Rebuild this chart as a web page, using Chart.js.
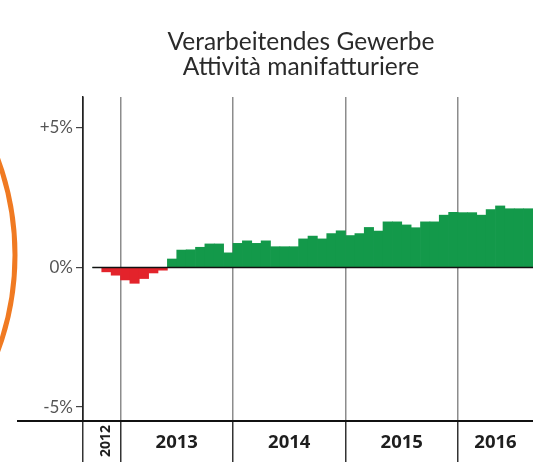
<!DOCTYPE html>
<html>
<head>
<meta charset="utf-8">
<script src="https://cdn.jsdelivr.net/npm/chart.js@4"></script>
<style>
  body { margin: 0; background: #fff; overflow: hidden; }
  canvas { display: block; }
</style>
</head>
<body>
<canvas id="mycanvas" width="533" height="462"></canvas>
<script>
// monthly change, Sep 2012 - Aug 2016 (picture is cut on the right)
var months = [
    "2012-09", "2012-10", "2012-11", "2012-12",
    "2013-01", "2013-02", "2013-03", "2013-04", "2013-05", "2013-06", "2013-07", "2013-08", "2013-09", "2013-10", "2013-11", "2013-12",
    "2014-01", "2014-02", "2014-03", "2014-04", "2014-05", "2014-06", "2014-07", "2014-08", "2014-09", "2014-10", "2014-11", "2014-12",
    "2015-01", "2015-02", "2015-03", "2015-04", "2015-05", "2015-06", "2015-07", "2015-08", "2015-09", "2015-10", "2015-11", "2015-12",
    "2016-01", "2016-02", "2016-03", "2016-04", "2016-05", "2016-06", "2016-07", "2016-08"
];
var change = [
    null, 0, -0.16, -0.28,
    -0.45, -0.57, -0.4, -0.2, -0.1, 0.3, 0.62, 0.63, 0.72, 0.84, 0.84, 0.52,
    0.86, 0.95, 0.86, 0.95, 0.74, 0.74, 0.74, 1.02, 1.12, 1.02, 1.21, 1.31,
    1.14, 1.21, 1.43, 1.3, 1.63, 1.63, 1.52, 1.42, 1.63, 1.63, 1.87, 1.97,
    1.96, 1.96, 1.87, 2.07, 2.2, 2.1, 2.1, 2.1
];
var years = ["2012", "2013", "2014", "2015", "2016"];
var yTicks = [-5, 0, 5];
var titleLines = ["Verarbeitendes Gewerbe", "Attività manifatturiere"];

var green = "#13994a";
var red = "#e3232b";

var barColors = [];
for (var i in change) {
    barColors.push(change[i] < 0 ? red : green);
}

function isYearStart(index) {
    if (index === 0) return true;
    return months[index] !== undefined && months[index].slice(5) === "01";
}

// title, orange ring piece on the left, bottom rule, zero line and year labels
var extras = {
    id: "extras",
    beforeDraw: function(chart) {
        var c = chart.ctx;
        c.save();
        c.strokeStyle = "#f07a22";
        c.lineWidth = 5;
        c.beginPath();
        c.arc(-262, 255, 277, 0, Math.PI * 2);
        c.stroke();

        c.fillStyle = "#2a2a2a";
        c.font = "24.5px Lato";
        c.textAlign = "center";
        c.textBaseline = "alphabetic";
        c.fillText(titleLines[0], 301, 50);
        c.fillText(titleLines[1], 301, 75);
        c.restore();
    },
    afterDatasetsDraw: function(chart) {
        var c = chart.ctx;
        var x = chart.scales.x;
        var y = chart.scales.y;
        var half = (x.getPixelForValue(1) - x.getPixelForValue(0)) / 2;
        var first = 0;
        while (change[first] === null) first++;

        c.save();
        c.strokeStyle = "#111";
        c.lineWidth = 1.5;
        c.beginPath();
        c.moveTo(x.getPixelForValue(first) - half, y.getPixelForValue(0));
        c.lineTo(chart.chartArea.right, y.getPixelForValue(0));
        c.stroke();

        c.lineWidth = 2;
        c.beginPath();
        c.moveTo(17, chart.chartArea.bottom);
        c.lineTo(chart.chartArea.right, chart.chartArea.bottom);
        c.stroke();

        c.fillStyle = "#1e1e1e";
        c.textAlign = "center";
        c.textBaseline = "middle";
        for (var k = 0; k < years.length; k++) {
            var idx = [];
            for (var m = 0; m < months.length; m++) {
                if (months[m].slice(0, 4) === years[k]) idx.push(m);
            }
            var left = x.getPixelForValue(idx[0]) - half;
            var right = x.getPixelForValue(idx[idx.length - 1]) + half;
            var cx = (left + right) / 2;
            var cy = chart.chartArea.bottom + 21;
            if (idx.length < 6) {
                c.save();
                c.font = "bold 14px 'Open Sans'";
                c.translate(cx + 4, cy - 1);
                c.rotate(-Math.PI / 2);
                c.fillText(years[k], 0, 0);
                c.restore();
            } else {
                c.font = "bold 18.5px 'Open Sans'";
                c.fillText(years[k], cx, cy + 1);
            }
        }
        c.restore();
    }
};

var chartdata = {
    labels: months,
    datasets: [
        {
            label: "change",
            data: change,
            backgroundColor: barColors,
            borderWidth: 0,
            barPercentage: 1,
            categoryPercentage: 1
        }
    ]
};

var ctx = document.getElementById("mycanvas");

var BarGraph = new Chart(ctx, {
    type: "bar",
    data: chartdata,
    plugins: [extras],
    options: {
        responsive: false,
        animation: false,
        layout: { padding: { top: 97, left: 0, right: 0, bottom: 0 } },
        plugins: {
            legend: { display: false },
            tooltip: { enabled: false },
            title: { display: false }
        },
        scales: {
            x: {
                ticks: { display: false },
                grid: {
                    offset: true,
                    lineWidth: 1.5,
                    tickLength: 41,
                    color: function(c) {
                        if (c.index === 0) return "#222";
                        return isYearStart(c.index) ? "#8c8c8c" : "rgba(0,0,0,0)";
                    },
                    tickColor: function(c) {
                        return isYearStart(c.index) ? "#333" : "rgba(0,0,0,0)";
                    }
                },
                border: { display: false }
            },
            y: {
                min: -5.5,
                max: 6.1,
                afterFit: function(scale) { scale.width = 83; },
                afterBuildTicks: function(scale) {
                    scale.ticks = yTicks.map(function(v) { return { value: v }; });
                },
                ticks: {
                    padding: 3,
                    color: "#555",
                    font: { family: "Lato", size: 17 },
                    callback: function(v) { return (v > 0 ? "+" : "") + v + "%"; }
                },
                grid: {
                    drawOnChartArea: false,
                    tickLength: 7,
                    color: "#444",
                    lineWidth: 1.2
                },
                border: { color: "#222", width: 1.5 }
            }
        }
    }
});
</script>
</body>
</html>
